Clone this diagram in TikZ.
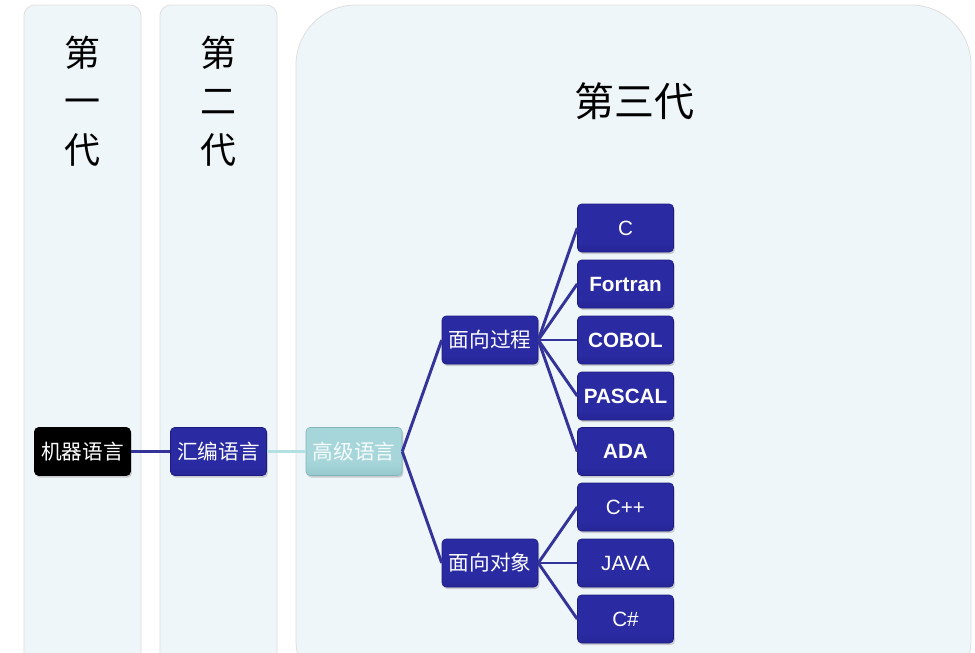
\documentclass[tikz,border=0pt]{standalone}
\usepackage{fontspec}
\setmainfont{Liberation Sans}
\newfontfamily\cjk{Noto Sans CJK SC}
\usetikzlibrary{shadows}
\definecolor{panelbg}{HTML}{EFF6F9}
\definecolor{linkblue}{HTML}{333399}
\definecolor{boxtop}{HTML}{5050D2}
\definecolor{boxmid}{HTML}{2A2AA2}
\definecolor{boxbot}{HTML}{1C1C80}
\definecolor{tealtop}{HTML}{D8F6F8}
\definecolor{tealmid}{HTML}{A6D6DA}
\definecolor{tealbot}{HTML}{80B4B8}
\definecolor{tealline}{HTML}{B4E0E3}
\pgfdeclareverticalshading{blueshade}{100bp}{color(0bp)=(boxbot); color(35bp)=(boxmid);
  color(82bp)=(boxmid); color(90bp)=(boxtop); color(100bp)=(boxtop)}
\pgfdeclareverticalshading{tealshade}{100bp}{color(0bp)=(tealbot); color(40bp)=(tealmid);
  color(80bp)=(tealmid); color(90bp)=(tealtop); color(100bp)=(tealtop)}
\pgfdeclareverticalshading{blackshade}{100bp}{color(0bp)=(black); color(80bp)=(black);
  color(90bp)=(black!65); color(100bp)=(black!65)}
\tikzset{
  panel/.style={fill=panelbg, draw=black!13, line width=0.6pt},
  gentitle/.style={font=\cjk\fontsize{27}{36.5}\selectfont, align=center},
  langbox/.style={rounded corners=3pt, minimum width=72pt, minimum height=36pt,
    inner sep=1pt, text=white, draw=boxbot, line width=0.4pt, shading=blueshade,
    drop shadow={opacity=0.35, shadow xshift=1pt, shadow yshift=-1.5pt},
    font=\fontsize{15.5}{18}\selectfont},
  cnbox/.style={langbox, font=\cjk\fontsize{15.5}{18}\selectfont},
  blackbox/.style={cnbox, shading=blackshade, draw=black},
  tealbox/.style={cnbox, shading=tealshade, draw=tealbot, text=white!90!tealmid},
  bfbox/.style={langbox, font=\bfseries\fontsize{15.5}{18}\selectfont},
  link/.style={draw=linkblue, line width=2.2pt},
}
\begin{document}
\begin{tikzpicture}[x=0.75pt,y=-0.75pt]
\useasboundingbox (0,0) rectangle (975,653);
\clip (0,0) rectangle (975,653);
% generation panels
\draw[panel, rounded corners=8pt] (24,5) rectangle (141,700);
\draw[panel, rounded corners=8pt] (160,5) rectangle (277,700);
\draw[panel, rounded corners=45pt] (296,5) rectangle (971,700);
\node[gentitle] (gen1) at (82.5,101) {第\\一\\代};
\node[gentitle] (gen2) at (218.5,101) {第\\二\\代};
\node[gentitle, font=\cjk\fontsize{30}{36}\selectfont] (gen3) at (634,101) {第三代};
% language nodes
\node[blackbox] (jiqi) at (82.5,451.5) {机器语言};
\node[cnbox] (huibian) at (218.5,451.5) {汇编语言};
\node[tealbox] (gaoji) at (354,451.5) {高级语言};
\node[cnbox] (guocheng) at (490,340) {面向过程};
\node[cnbox] (duixiang) at (490,563) {面向对象};
\node[langbox] (c) at (625.5,228) {C};
\node[bfbox] (fortran) at (625.5,284) {Fortran};
\node[bfbox] (cobol) at (625.5,340) {COBOL};
\node[bfbox] (pascal) at (625.5,396) {PASCAL};
\node[bfbox] (ada) at (625.5,451.5) {ADA};
\node[langbox] (cpp) at (625.5,507) {C++};
\node[langbox] (java) at (625.5,563) {JAVA};
\node[langbox] (csharp) at (625.5,619) {C\#};
% connectors
\draw[link] (jiqi.east) -- (huibian.west);
\draw[link, draw=tealline] (huibian.east) -- (gaoji.west);
\draw[link] (gaoji.east) -- (guocheng.west);
\draw[link] (gaoji.east) -- (duixiang.west);
\foreach \n in {c,fortran,cobol,pascal,ada}
  \draw[link] (guocheng.east) -- (\n.west);
\foreach \n in {cpp,java,csharp}
  \draw[link] (duixiang.east) -- (\n.west);
\end{tikzpicture}
\end{document}
